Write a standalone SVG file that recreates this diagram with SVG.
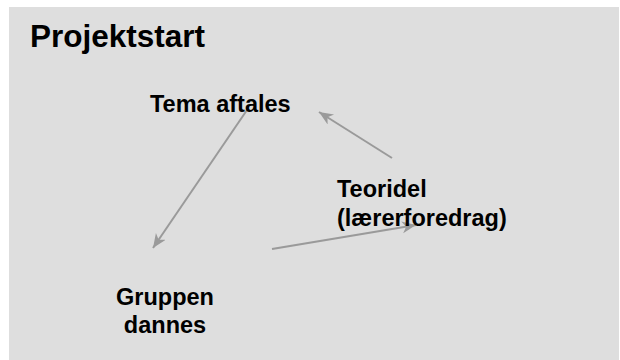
<svg xmlns="http://www.w3.org/2000/svg" width="620" height="360" viewBox="0 0 620 360">
  <style>
    .lbl { font-family: "Liberation Sans", Arial, sans-serif; font-weight: bold; font-size: 23.5px; fill: #000; }
    .title { font-family: "Liberation Sans", Arial, sans-serif; font-weight: bold; font-size: 31.5px; fill: #000; }
    .conn { stroke: #9a9a9a; stroke-width: 2; fill: none; marker-end: url(#arr); }
  </style>
  <defs>
    <marker id="arr" markerUnits="userSpaceOnUse" markerWidth="16" markerHeight="14" refX="14" refY="6" orient="auto">
      <path d="M0,0 L14,6 L0,12 L4,6 Z" fill="#9a9a9a"/>
    </marker>
  </defs>
  <rect x="0" y="0" width="620" height="360" fill="#ffffff"/>
  <rect x="9" y="7" width="610" height="353" fill="#dedede"/>
  <text class="title" x="30" y="47">Projektstart</text>
  <g id="connectors">
    <line class="conn" x1="247" y1="110" x2="153" y2="248"/>
    <line class="conn" x1="392" y1="158" x2="319" y2="112"/>
    <line class="conn" x1="272" y1="249" x2="416" y2="225"/>
  </g>
  <g id="node-tema">
    <text class="lbl" x="150" y="112">Tema aftales</text>
  </g>
  <g id="node-teori">
    <text class="lbl" x="337" y="197">Teoridel</text>
    <text class="lbl" x="337" y="226">(lærerforedrag)</text>
  </g>
  <g id="node-gruppen">
    <text class="lbl" x="165" y="305" text-anchor="middle">Gruppen</text>
    <text class="lbl" x="165" y="333" text-anchor="middle">dannes</text>
  </g>
</svg>
